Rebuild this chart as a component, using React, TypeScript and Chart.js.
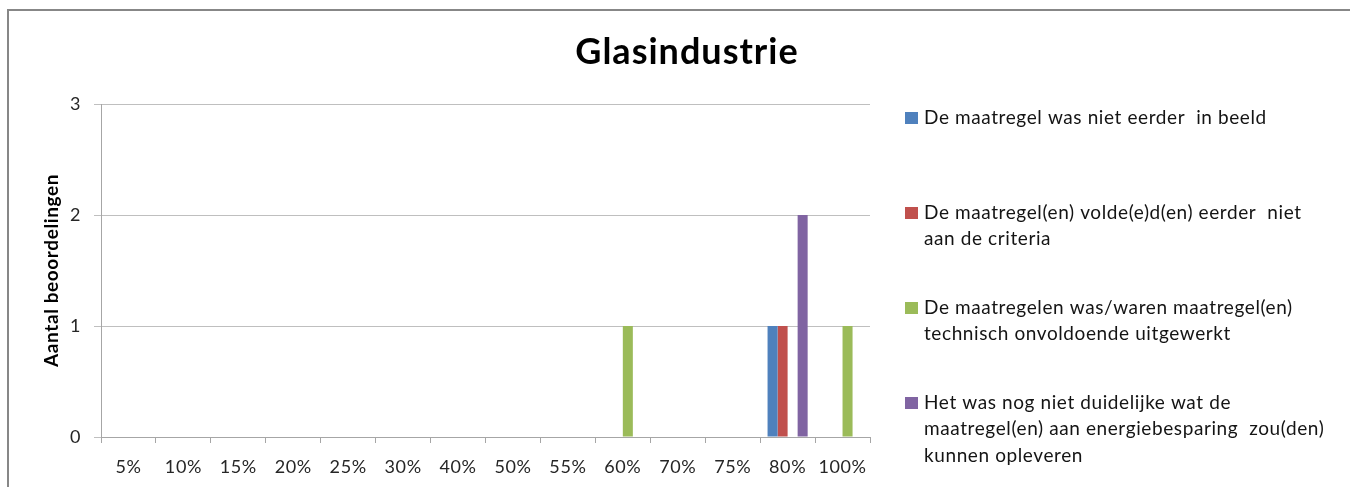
import React, { useEffect, useRef } from "react";
import { Chart, registerables } from "chart.js";

Chart.register(...registerables);

const categories = ["5%", "10%", "15%", "20%", "25%", "30%", "40%", "50%", "55%", "60%", "70%", "75%", "80%", "100%"];
const nietInBeeld = [0, 0, 0, 0, 0, 0, 0, 0, 0, 0, 0, 0, 1, 0];
const nietCriteria = [0, 0, 0, 0, 0, 0, 0, 0, 0, 0, 0, 0, 1, 0];
const technisch = [0, 0, 0, 0, 0, 0, 0, 0, 0, 1, 0, 0, 0, 1];
const onduidelijk = [0, 0, 0, 0, 0, 0, 0, 0, 0, 0, 0, 0, 2, 0];
const yTicks = [0, 1, 2, 3];

const titleText = "Glasindustrie";
const yTitleText = "Aantal beoordelingen";
const legendNietInBeeld = ["De maatregel was niet eerder  in beeld"];
const legendNietCriteria = ["De maatregel(en) volde(e)d(en) eerder  niet", "aan de criteria"];
const legendTechnisch = ["De maatregelen was/waren maatregel(en)", "technisch onvoldoende uitgewerkt"];
const legendOnduidelijk = ["Het was nog niet duidelijke wat de", "maatregel(en) aan energiebesparing  zou(den)", "kunnen opleveren"];

const FONT = "Lato, 'Open Sans', sans-serif";

const decorPlugin = {
  id: "decor",
  beforeDraw(chart: any) {
    const { ctx, width, height } = chart;
    ctx.save();
    ctx.fillStyle = "#ffffff";
    ctx.fillRect(0, 0, width, height);
    ctx.strokeStyle = "#878787";
    ctx.lineWidth = 2;
    ctx.beginPath();
    ctx.moveTo(width + 5, 10);
    ctx.lineTo(8, 10);
    ctx.lineTo(8, height + 5);
    ctx.stroke();
    ctx.restore();
    // slightly wider letter spacing for the axis tick labels
    ctx.letterSpacing = "0.6px";
  },
  afterDraw(chart: any) {
    const { ctx, chartArea } = chart;
    ctx.save();
    // title
    ctx.fillStyle = "#000000";
    ctx.letterSpacing = "1px";
    ctx.font = `bold 36px ${FONT}`;
    ctx.textAlign = "center";
    ctx.textBaseline = "alphabetic";
    ctx.fillText(titleText, 687, 64);
    // y title
    ctx.save();
    ctx.letterSpacing = "0.6px";
    ctx.translate(58, (chartArea.top + chartArea.bottom) / 2);
    ctx.rotate(-Math.PI / 2);
    ctx.font = `bold 19px ${FONT}`;
    ctx.fillText(yTitleText, 0, 0);
    ctx.restore();
    // legend
    const ds = chart.data.datasets;
    ctx.textAlign = "left";
    ctx.letterSpacing = "0.6px";
    ctx.font = `19px ${FONT}`;
    ds.forEach((d: any, i: number) => {
      const base = 123.5 + i * 95;
      ctx.fillStyle = d.backgroundColor;
      ctx.fillRect(905, base - 11.5, 13, 12);
      ctx.fillStyle = "#141414";
      (d.legendLines as string[]).forEach((line, j) => {
        ctx.fillText(line, 924, base + j * 26.5);
      });
    });
    ctx.restore();
    ctx.letterSpacing = "0px";
  },
};

export default function App() {
  const ref = useRef<HTMLCanvasElement | null>(null);
  useEffect(() => {
    if (!ref.current) return;
    const chart = new Chart(ref.current, {
      type: "bar",
      data: {
        labels: categories,
        datasets: [
          { label: legendNietInBeeld.join(" "), data: nietInBeeld, backgroundColor: "#4F81BD", legendLines: legendNietInBeeld } as any,
          { label: legendNietCriteria.join(" "), data: nietCriteria, backgroundColor: "#C0504D", legendLines: legendNietCriteria } as any,
          { label: legendTechnisch.join(" "), data: technisch, backgroundColor: "#9BBB59", legendLines: legendTechnisch } as any,
          { label: legendOnduidelijk.join(" "), data: onduidelijk, backgroundColor: "#8064A2", legendLines: legendOnduidelijk } as any,
        ],
      },
      options: {
        animation: false,
        responsive: true,
        maintainAspectRatio: false,
        datasets: { bar: { categoryPercentage: 0.73, barPercentage: 1 } },
        layout: { padding: { top: 104, right: 480, left: 0, bottom: 0 } },
        plugins: { legend: { display: false }, title: { display: false }, tooltip: { enabled: false } },
        scales: {
          x: {
            grid: { offset: true, drawOnChartArea: false, drawTicks: true, tickLength: 6, color: "#a6a6a6" },
            border: { color: "#a6a6a6", width: 1 },
            ticks: { color: "#262626", font: { family: FONT, size: 18 }, padding: 13, maxRotation: 0, autoSkip: false },
            afterFit(scale: any) { scale.height = 50; },
          },
          y: {
            min: 0,
            max: 3,
            afterBuildTicks(scale: any) { scale.ticks = yTicks.map((v) => ({ value: v })); },
            grid: { color: "#bfbfbf", drawTicks: true, tickLength: 7 },
            border: { color: "#a6a6a6", width: 1 },
            ticks: { color: "#262626", font: { family: FONT, size: 18 }, padding: 13 },
            afterFit(scale: any) { scale.width = 101; },
          },
        },
      },
      plugins: [decorPlugin],
    });
    return () => chart.destroy();
  }, []);
  return (
    <div style={{ position: "fixed", left: 0, top: 0, width: 1350, height: 487, background: "#fff" }}>
      <canvas ref={ref} />
    </div>
  );
}
